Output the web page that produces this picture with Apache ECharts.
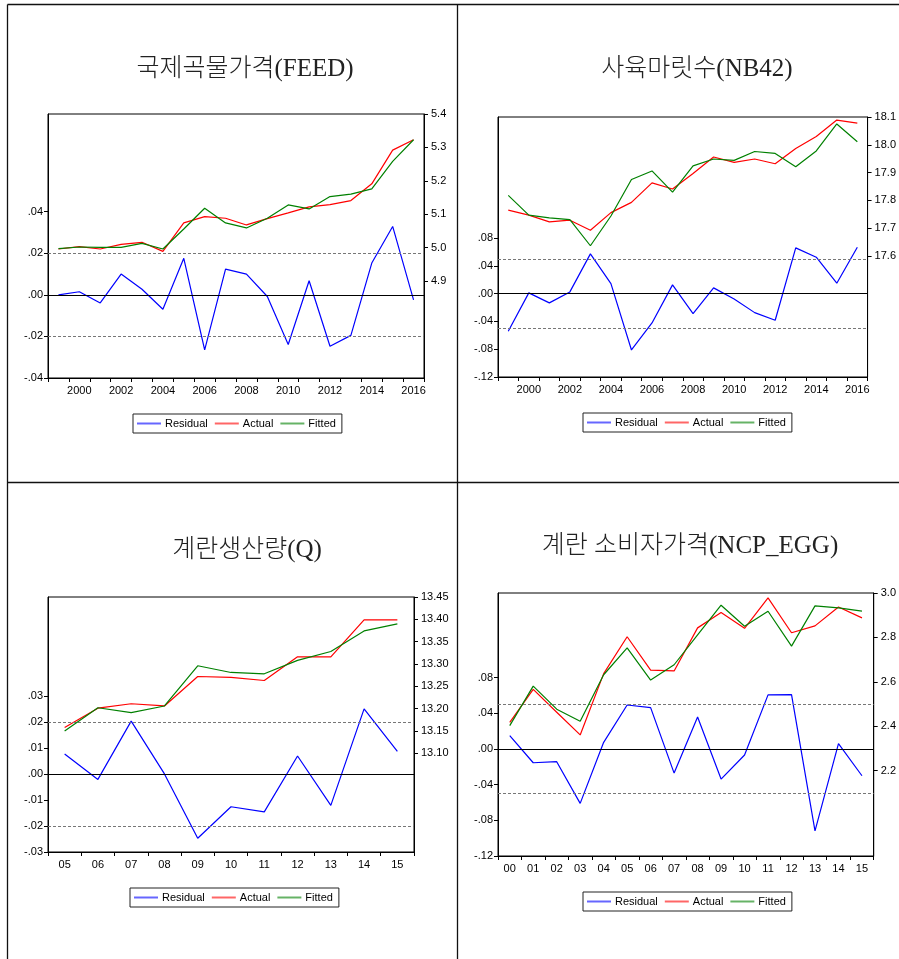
<!DOCTYPE html>
<html>
<head>
<meta charset="utf-8">
<title>Residual / Actual / Fitted</title>
<script src="https://cdn.jsdelivr.net/npm/echarts@6/dist/echarts.min.js"></script>
<style>
  html, body { margin: 0; padding: 0; background: #fff; }
  #chart { width: 899px; height: 959px; }
</style>
</head>
<body>
<div id="chart"></div>
<script>
// ---- data -------------------------------------------------------------
const years = ['1999','2000','2001','2002','2003','2004','2005','2006','2007','2008',
               '2009','2010','2011','2012','2013','2014','2015','2016'];

// 국제곡물가격 (FEED)
const feedResidual = [0.0000, 0.0015, -0.0039, 0.0100, 0.0027, -0.0069, 0.0176, -0.0265, 0.0124,
                      0.0100, -0.0008, -0.0239, 0.0068, -0.0247, -0.0195, 0.0153, 0.0329, -0.0024];
const feedActual   = [4.996, 5.003, 4.996, 5.010, 5.016, 4.989, 5.074, 5.093, 5.088,
                      5.068, 5.087, 5.104, 5.122, 5.129, 5.141, 5.191, 5.292, 5.323];
const feedFitted   = [4.997, 5.002, 5.001, 5.001, 5.013, 4.996, 5.056, 5.118, 5.074,
                      5.059, 5.088, 5.128, 5.116, 5.153, 5.160, 5.176, 5.258, 5.323];

// 사육마릿수 (NB42)
const nb42Residual = [-0.0542, 0.0010, -0.0134, 0.0024, 0.0571, 0.0144, -0.0811, -0.0422, 0.0125,
                      -0.0288, 0.0082, -0.0077, -0.0274, -0.0384, 0.0658, 0.0523, 0.0149, 0.0667];
const nb42Actual   = [17.765, 17.747, 17.723, 17.729, 17.693, 17.756, 17.793, 17.863, 17.841,
                      17.897, 17.956, 17.937, 17.949, 17.932, 17.987, 18.030, 18.089, 18.078];
const nb42Fitted   = [17.818, 17.747, 17.737, 17.731, 17.637, 17.744, 17.875, 17.906, 17.830,
                      17.924, 17.949, 17.944, 17.976, 17.969, 17.921, 17.978, 18.075, 18.011];

// 계란생산량 (Q)
const qYears    = ['05','06','07','08','09','10','11','12','13','14','15'];
const qResidual = [0.0077, -0.0021, 0.0203, 0.0000, -0.0247, -0.0126, -0.0146, 0.0069, -0.0121, 0.0250, 0.0087];
const qActual   = [13.158, 13.201, 13.211, 13.206, 13.272, 13.270, 13.263, 13.316, 13.316, 13.399, 13.399];
const qFitted   = [13.150, 13.202, 13.191, 13.206, 13.296, 13.281, 13.278, 13.308, 13.328, 13.374, 13.390];

// 계란 소비자가격 (NCP_EGG)
const eggYears    = ['00','01','02','03','04','05','06','07','08','09','10','11','12','13','14','15'];
const eggResidual = [0.0150, -0.0154, -0.0142, -0.0610, 0.0075, 0.0494, 0.0464, -0.0270,
                     0.0360, -0.0337, -0.0067, 0.0607, 0.0610, -0.0918, 0.0060, -0.0300];
const eggActual   = [2.418, 2.566, 2.463, 2.361, 2.637, 2.803, 2.653, 2.649,
                     2.843, 2.912, 2.841, 2.978, 2.821, 2.852, 2.937, 2.888];
const eggFitted   = [2.403, 2.581, 2.477, 2.423, 2.632, 2.753, 2.608, 2.677,
                     2.812, 2.945, 2.850, 2.918, 2.761, 2.942, 2.933, 2.918];

// panel titles
const panelTitles = ['국제곡물가격(FEED)', '사육마릿수(NB42)', '계란생산량(Q)', '계란 소비자가격(NCP_EGG)'];

// residual standard-error bands (dashed lines at ±se)
const seBands = [0.0185, 0.0463, 0.0172, 0.0537];

// axis ranges and tick labels
const residRanges = [[-0.04, 0.087], [-0.12, 0.254], [-0.03, 0.068], [-0.12, 0.175]];
const levelRanges = [[4.61, 5.40], [17.165, 18.10], [12.879, 13.45], [1.816, 3.00]];
const residTicks = [
  [-0.04, -0.02, 0, 0.02, 0.04],
  [-0.12, -0.08, -0.04, 0, 0.04, 0.08],
  [-0.03, -0.02, -0.01, 0, 0.01, 0.02, 0.03],
  [-0.12, -0.08, -0.04, 0, 0.04, 0.08]
];
const levelTicks = [
  [4.9, 5.0, 5.1, 5.2, 5.3, 5.4],
  [17.6, 17.7, 17.8, 17.9, 18.0, 18.1],
  [13.10, 13.15, 13.20, 13.25, 13.30, 13.35, 13.40, 13.45],
  [2.2, 2.4, 2.6, 2.8, 3.0]
];
const levelDecimals = [1, 1, 2, 1];
const seriesNames = ['Residual', 'Actual', 'Fitted'];

// ---- layout -----------------------------------------------------------
const panelData = [
  { cats: years,    resid: feedResidual, actual: feedActual, fitted: feedFitted, labelEvery2: true },
  { cats: years,    resid: nb42Residual, actual: nb42Actual, fitted: nb42Fitted, labelEvery2: true },
  { cats: qYears,   resid: qResidual,    actual: qActual,    fitted: qFitted,    labelEvery2: false },
  { cats: eggYears, resid: eggResidual,  actual: eggActual,  fitted: eggFitted,  labelEvery2: false }
];
const gridBoxes = [
  { left: 48,  top: 114, width: 376, height: 264 },
  { left: 498, top: 117, width: 378, height: 260 },
  { left: 48,  top: 597, width: 366, height: 255 },
  { left: 498, top: 593, width: 376, height: 263 }
];
const titlePos  = [[245, 69], [697, 69], [247, 550], [690, 546]];
const legendPos = [[133, 414], [583, 413], [130, 888], [583, 892]];

const COLORS = { Residual: '#0000ff', Actual: '#ff0000', Fitted: '#008000' };
const AXIS_FONT = "'Liberation Sans', Arial, sans-serif";
const TITLE_FONT = "'Liberation Serif', 'Noto Sans CJK KR', serif";

function residLabel(v) {
  const s = Math.abs(v).toFixed(2).replace(/^0/, '');
  return (v < -1e-9 ? '-' : '') + s;
}

const grids = [], xAxes = [], yAxes = [], series = [], legends = [], graphics = [];

panelData.forEach((p, i) => {
  grids.push(Object.assign({ show: true, borderColor: '#000', borderWidth: 1, containLabel: false }, gridBoxes[i]));

  xAxes.push({
    type: 'category', gridIndex: i, data: p.cats, boundaryGap: true, position: 'bottom',
    axisLine: { show: true, onZero: false, lineStyle: { color: '#000', width: 1 } },
    axisTick: { show: true, interval: 0, length: 4, inside: false, lineStyle: { color: '#000' } },
    axisLabel: {
      interval: p.labelEvery2 ? ((idx) => idx % 2 === 1) : 0,
      color: '#000', fontSize: 11, fontFamily: AXIS_FONT, margin: 7
    },
    splitLine: { show: false }
  });

  yAxes.push({
    type: 'value', gridIndex: i, position: 'left',
    min: residRanges[i][0], max: residRanges[i][1],
    axisLine: { show: true, onZero: false, lineStyle: { color: '#000' } },
    axisTick: { show: true, length: 4, customValues: residTicks[i], lineStyle: { color: '#000' } },
    axisLabel: { customValues: residTicks[i], formatter: residLabel, color: '#000',
                 fontSize: 11, fontFamily: AXIS_FONT, margin: 5 },
    splitLine: { show: false }
  });
  yAxes.push({
    type: 'value', gridIndex: i, position: 'right',
    min: levelRanges[i][0], max: levelRanges[i][1],
    axisLine: { show: true, onZero: false, lineStyle: { color: '#000' } },
    axisTick: { show: true, length: 4, customValues: levelTicks[i], lineStyle: { color: '#000' } },
    axisLabel: { customValues: levelTicks[i], formatter: (v) => v.toFixed(levelDecimals[i]),
                 color: '#000', fontSize: 11, fontFamily: AXIS_FONT, margin: 7 },
    splitLine: { show: false }
  });

  const se = seBands[i];
  series.push({
    name: 'Residual', type: 'line', xAxisIndex: i, yAxisIndex: 2 * i,
    data: p.resid, symbol: 'none', lineStyle: { color: COLORS.Residual, width: 1.2 },
    itemStyle: { color: COLORS.Residual }, animation: false, z: 3,
    markLine: {
      silent: true, symbol: 'none', label: { show: false }, animation: false,
      data: [
        { yAxis: 0,   lineStyle: { color: '#000', width: 1.2, type: 'solid' } },
        { yAxis: se,  lineStyle: { color: '#777', width: 1, type: [3, 2] } },
        { yAxis: -se, lineStyle: { color: '#777', width: 1, type: [3, 2] } }
      ]
    }
  });
  series.push({
    name: 'Actual', type: 'line', xAxisIndex: i, yAxisIndex: 2 * i + 1,
    data: p.actual, symbol: 'none', lineStyle: { color: COLORS.Actual, width: 1.2 },
    itemStyle: { color: COLORS.Actual }, animation: false, z: 4
  });
  series.push({
    name: 'Fitted', type: 'line', xAxisIndex: i, yAxisIndex: 2 * i + 1,
    data: p.fitted, symbol: 'none', lineStyle: { color: COLORS.Fitted, width: 1.2 },
    itemStyle: { color: COLORS.Fitted }, animation: false, z: 5
  });

  legends.push({
    data: seriesNames, left: legendPos[i][0], top: legendPos[i][1], orient: 'horizontal',
    backgroundColor: '#fff', borderColor: '#222', borderWidth: 1, borderRadius: 0,
    padding: [4, 6, 4, 4], itemGap: 7, itemWidth: 24, itemHeight: 2,
    icon: 'rect',
    itemStyle: { opacity: 0.6 },
    textStyle: { color: '#000', fontSize: 11, fontFamily: AXIS_FONT, padding: [0, 0, 0, -1] },
    selectedMode: false
  });

  graphics.push({
    type: 'text', x: titlePos[i][0], y: titlePos[i][1], silent: true,
    style: {
      text: panelTitles[i], fontSize: 25, fontWeight: 300, fontFamily: TITLE_FONT, fill: '#222',
      align: 'center', verticalAlign: 'middle', textAlign: 'center', textVerticalAlign: 'middle'
    }
  });
});

// panel frame and dividers
const frameStyle = { stroke: '#111', lineWidth: 1.3 };
[
  [7.5, 4.5, 899, 4.5],      // top edge
  [7.5, 4.5, 7.5, 959],      // left edge
  [457.5, 4.5, 457.5, 959],  // vertical divider
  [7.5, 482.5, 899, 482.5]   // horizontal divider
].forEach(s => graphics.push({
  type: 'line', silent: true, z: 10,
  shape: { x1: s[0], y1: s[1], x2: s[2], y2: s[3] }, style: frameStyle
}));

const chart = echarts.init(document.getElementById('chart'), null, { renderer: 'canvas' });
chart.setOption({
  backgroundColor: '#fff',
  animation: false,
  grid: grids,
  xAxis: xAxes,
  yAxis: yAxes,
  series: series,
  legend: legends,
  graphic: graphics
});
</script>
</body>
</html>
